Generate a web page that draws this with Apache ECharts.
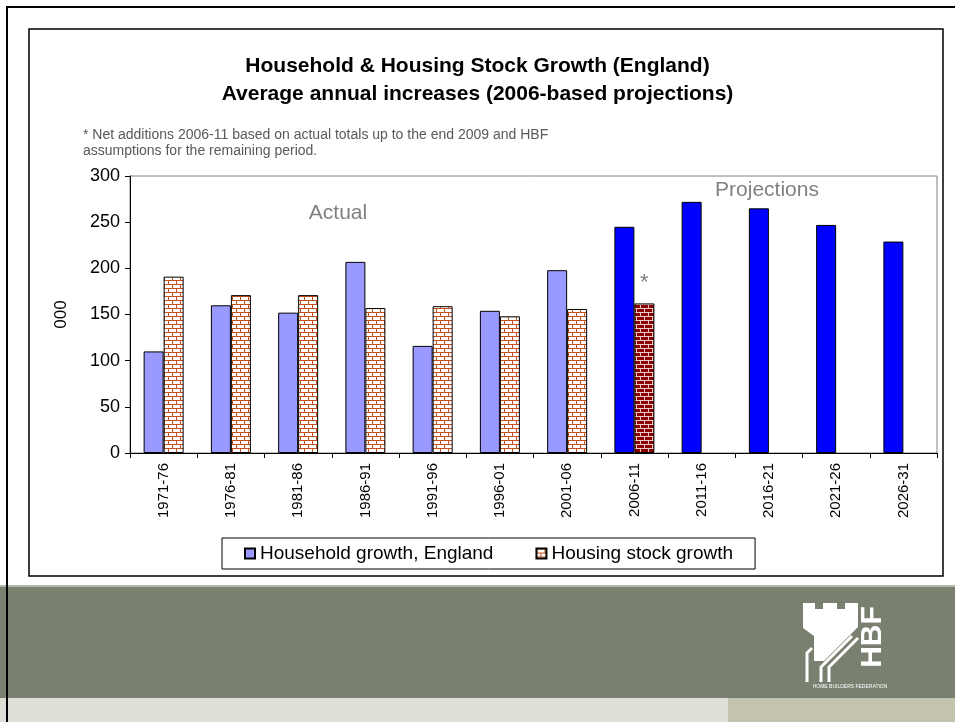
<!DOCTYPE html>
<html>
<head>
<meta charset="utf-8">
<script src="https://cdn.jsdelivr.net/npm/echarts@6/dist/echarts.min.js"></script>
<style>
  html, body { margin: 0; padding: 0; background: #fff; }
  #main { width: 955px; height: 722px; }
</style>
</head>
<body>
<div id="main"></div>
<script>
const periods = ['1971-76', '1976-81', '1981-86', '1986-91', '1991-96', '1996-01',
  '2001-06', '2006-11', '2011-16', '2016-21', '2021-26', '2026-31']
const householdGrowth = [110, 160, 152, 207, 116, 154, 198, 245, 272, 265, 247, 229]
const stockGrowth = [191, 171, 171, 157, 159, 148, 156, 162, null, null, null, null]
const yTicks = [0, 50, 100, 150, 200, 250, 300]
// first period that is partly projected
const projStart = periods.indexOf('2006-11')

const font = 'Liberation Sans, Arial, sans-serif'

// brick fill, 8x8 tile
function brick (fill, mortar) {
  const c = document.createElement('canvas')
  c.width = 8
  c.height = 8
  const ctx = c.getContext('2d')
  ctx.fillStyle = fill
  ctx.fillRect(0, 0, 8, 8)
  ctx.fillStyle = mortar
  ctx.fillRect(0, 0, 8, 1)
  ctx.fillRect(0, 4, 8, 1)
  ctx.fillRect(0, 0, 1, 4)
  ctx.fillRect(4, 4, 1, 4)
  return { image: c, repeat: 'repeat' }
}
const brickLight = brick('#ffffff', '#c8501e')
const brickDark = brick('#8b0000', '#e8c8c8')

const householdData = householdGrowth.map((v, i) => ({
  value: v,
  itemStyle: i >= projStart ? { color: '#0000ff' } : {}
}))
const stockData = stockGrowth.map((v, i) => {
  if (i !== projStart) return v
  return {
    value: v,
    itemStyle: { color: brickDark },
    label: { show: true, position: 'top', formatter: '*', color: '#808080', fontSize: 22, distance: 9, fontFamily: font }
  }
})

const chart = echarts.init(document.getElementById('main'), null, { renderer: 'canvas' })

chart.setOption({
  backgroundColor: '#fff',
  animation: false,
  textStyle: { fontFamily: font },
  title: {
    text: 'Household & Housing Stock Growth (England)\nAverage annual increases (2006-based projections)',
    left: 'center',
    top: 47,
    textStyle: { fontSize: 21, fontWeight: 'bold', color: '#000', lineHeight: 28, fontFamily: font }
  },
  legend: {
    data: ['Household growth, England', 'Housing stock growth'],
    left: 222,
    top: 538,
    icon: 'rect',
    itemWidth: 10,
    itemHeight: 10,
    itemGap: 42,
    padding: [6, 22, 6, 22],
    borderColor: '#000',
    borderWidth: 1,
    textStyle: { fontSize: 19, color: '#000', fontFamily: font }
  },
  grid: {
    left: 130,
    right: 18,
    top: 176,
    bottom: 269,
    show: true,
    borderColor: '#808080',
    borderWidth: 1
  },
  xAxis: {
    type: 'category',
    data: periods,
    axisLine: { lineStyle: { color: '#000', width: 1 } },
    axisTick: { show: true, length: 5, lineStyle: { color: '#000' } },
    axisLabel: { rotate: 90, interval: 0, fontSize: 15, color: '#000', margin: 10, fontFamily: font }
  },
  yAxis: {
    type: 'value',
    min: yTicks[0],
    max: yTicks[yTicks.length - 1],
    interval: yTicks[1] - yTicks[0],
    name: '000',
    nameLocation: 'middle',
    nameRotate: 90,
    nameGap: 60,
    nameTextStyle: { fontSize: 17, color: '#000', fontFamily: font },
    axisLine: { show: true, lineStyle: { color: '#000', width: 1 } },
    axisTick: { show: true, length: 5, lineStyle: { color: '#000' } },
    axisLabel: { fontSize: 18, color: '#000', margin: 10, fontFamily: font },
    splitLine: { show: false }
  },
  series: [
    {
      name: 'Household growth, England',
      type: 'bar',
      barWidth: 20,
      barGap: '0%',
      itemStyle: { color: '#9999ff', borderColor: '#000', borderWidth: 1 },
      data: householdData
    },
    {
      name: 'Housing stock growth',
      type: 'bar',
      barWidth: 20,
      itemStyle: { color: brickLight, borderColor: '#000', borderWidth: 1 },
      data: stockData
    }
  ],
  graphic: [
    // slide frames and footer bands
    { type: 'rect', silent: true, z: -10, shape: { x: 0, y: 585, width: 955, height: 113 }, style: { fill: '#7a8070' } },
    { type: 'rect', silent: true, z: -10, shape: { x: 0, y: 585, width: 955, height: 2 }, style: { fill: '#b4b8ac' } },
    { type: 'rect', silent: true, z: -10, shape: { x: 0, y: 698, width: 728, height: 24 }, style: { fill: '#dfdfd7' } },
    { type: 'rect', silent: true, z: -10, shape: { x: 728, y: 698, width: 227, height: 24 }, style: { fill: '#c4c3ae' } },
    { type: 'rect', silent: true, z: -9, shape: { x: 6, y: 6, width: 2, height: 716 }, style: { fill: '#000' } },
    { type: 'rect', silent: true, z: -9, shape: { x: 6, y: 6, width: 949, height: 2 }, style: { fill: '#000' } },
    { type: 'rect', silent: true, z: -9, shape: { x: 29, y: 29, width: 914, height: 547 }, style: { fill: 'none', stroke: '#000', lineWidth: 1.5 } },
    // note and region labels
    {
      type: 'text', left: 83, top: 127, silent: true,
      style: {
        text: '* Net additions 2006-11 based on actual totals up to the end 2009 and HBF\nassumptions for the remaining period.',
        fontSize: 14, lineHeight: 16, fill: '#595959', fontFamily: font
      }
    },
    { type: 'text', x: 338, y: 213, silent: true, style: { text: 'Actual', fontSize: 21, fill: '#808080', align: 'center', verticalAlign: 'middle', fontFamily: font } },
    { type: 'text', x: 767, y: 190, silent: true, style: { text: 'Projections', fontSize: 21, fill: '#808080', align: 'center', verticalAlign: 'middle', fontFamily: font } },
    // HBF logo
    {
      type: 'polygon', silent: true,
      shape: { points: [[803, 603], [815, 603], [815, 609], [823, 609], [823, 603], [837, 603], [837, 609], [845, 609], [845, 603], [858, 603], [858, 627], [824, 661], [814, 661], [814, 636], [803, 628]] },
      style: { fill: '#fff' }
    },
    { type: 'polyline', silent: true, shape: { points: [[858, 638], [829, 667], [829, 682]] }, style: { stroke: '#fff', lineWidth: 3, fill: 'none' } },
    { type: 'polyline', silent: true, shape: { points: [[852, 636], [821, 667], [821, 682]] }, style: { stroke: '#fff', lineWidth: 3, fill: 'none' } },
    { type: 'polyline', silent: true, shape: { points: [[812, 648], [807, 653], [807, 682]] }, style: { stroke: '#fff', lineWidth: 3, fill: 'none' } },
    {
      type: 'text', x: 873, y: 637, rotation: Math.PI / 2, silent: true,
      style: { text: 'HBF', fontSize: 30, fontWeight: 'bold', fill: '#fff', align: 'center', verticalAlign: 'middle', fontFamily: font }
    },
    { type: 'text', x: 850, y: 687, silent: true, style: { text: 'HOME BUILDERS FEDERATION', fontSize: 5, fill: '#fff', align: 'center', verticalAlign: 'middle', fontFamily: font } }
  ]
})
</script>
</body>
</html>
